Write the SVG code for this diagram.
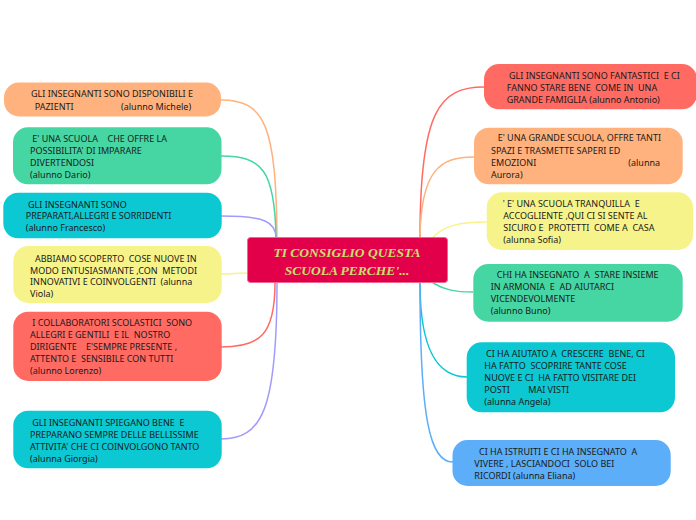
<svg xmlns="http://www.w3.org/2000/svg" width="696" height="520" viewBox="0 0 696 520">
<style>
.t{font-family:"Noto Sans","Open Sans",sans-serif;font-size:9px;fill:#1a1a1a;white-space:pre}
.c{font-family:"Liberation Serif","Times New Roman",serif;font-size:13.5px;font-weight:bold;font-style:italic;fill:#c6e06c;text-anchor:middle}
.ln{fill:none;stroke-width:1.5}
</style>
<rect width="696" height="520" fill="#ffffff"/>
<g id="connectors">
<path class="ln" stroke="#ffb27d" d="M277 238 C276 125 265 100 221 100"/>
<path class="ln" stroke="#45d6a4" d="M276 238 C275 170 262 156 221 156"/>
<path class="ln" stroke="#a29bfe" d="M276 238 C276 222 265 216 221 216"/>
<path class="ln" stroke="#f7f38b" d="M248 273 C240 273 230 274 221 274"/>
<path class="ln" stroke="#ff6b63" d="M275 283 C275 335 260 347 221 347"/>
<path class="ln" stroke="#a29bfe" d="M277 283 C277 410 262 439 221 439"/>
<path class="ln" stroke="#ff6b63" d="M420 237 C420 110 440 87 484 87"/>
<path class="ln" stroke="#ffb27d" d="M420 237 C421 170 440 157 474 157"/>
<path class="ln" stroke="#f7f38b" d="M432 238 C445 225 460 222 487 222"/>
<path class="ln" stroke="#45d6a4" d="M433 283 C445 290 455 292 473 292"/>
<path class="ln" stroke="#0bc8d3" d="M420 283 C420 355 440 377 467 377"/>
<path class="ln" stroke="#5baef7" d="M420 283 C420 420 430 462 453 462"/>
</g>
<g id="center">
<rect x="247.5" y="237.5" width="200" height="45" rx="3" fill="#e2004b" stroke="#f0668f" stroke-width="1"/>
<text class="c" x="347" y="257">TI CONSIGLIO QUESTA</text>
<text class="c" x="347" y="274.5">SCUOLA PERCHE'...</text>
</g>
<g id="l1">
<rect x="4" y="82.5" width="217" height="34" rx="15" fill="#ffb27d"/>
<text class="t" x="31" y="97.3">GLI INSEGNANTI SONO DISPONIBILI E</text>
<text class="t" x="34.7" y="109.5">PAZIENTI</text>
<text class="t" x="121" y="109.5">(alunno Michele)</text>
</g>
<g id="l2">
<rect x="13" y="127.3" width="208.5" height="57" rx="15" fill="#45d6a4"/>
<text class="t" x="32.3" y="141.5">E' UNA SCUOLA</text>
<text class="t" x="107.5" y="141.5">CHE OFFRE LA</text>
<text class="t" x="30" y="153.8">POSSIBILITA' DI IMPARARE</text>
<text class="t" x="30" y="166">DIVERTENDOSI</text>
<text class="t" x="30" y="178.3">(alunno Dario)</text>
</g>
<g id="l3">
<rect x="3.3" y="192.7" width="218.4" height="45.6" rx="15" fill="#0bc8d3"/>
<text class="t" x="28" y="207.7">GLI INSEGNANTI SONO</text>
<text class="t" x="25.7" y="219.4">PREPARATI,ALLEGRI E SORRIDENTI</text>
<text class="t" x="25.7" y="231.2">(alunno Francesco)</text>
</g>
<g id="l4">
<rect x="13.3" y="246" width="208.4" height="57" rx="15" fill="#f7f38b"/>
<text class="t" x="35" y="261.6">ABBIAMO SCOPERTO  COSE NUOVE IN</text>
<text class="t" x="30" y="273.5">MODO ENTUSIASMANTE ,CON  METODI</text>
<text class="t" x="30" y="285.3">INNOVATIVI E COINVOLGENTI  (alunna</text>
<text class="t" x="30" y="297">Viola)</text>
</g>
<g id="l5">
<rect x="13.3" y="311.7" width="208.4" height="69.3" rx="15" fill="#ff6b63"/>
<text class="t" x="32.3" y="325.6">I COLLABORATORI SCOLASTICI  SONO</text>
<text class="t" x="30" y="337.8">ALLEGRI E GENTILI  E IL  NOSTRO</text>
<text class="t" x="30" y="350">DIRIGENTE</text>
<text class="t" x="86" y="350">E'SEMPRE PRESENTE ,</text>
<text class="t" x="30" y="362">ATTENTO E  SENSIBILE CON TUTTI</text>
<text class="t" x="30" y="374">(alunno Lorenzo)</text>
</g>
<g id="l6">
<rect x="13.3" y="410.7" width="208.4" height="57.6" rx="15" fill="#0bc8d3"/>
<text class="t" x="32.3" y="425.6">GLI INSEGNANTI SPIEGANO BENE  E</text>
<text class="t" x="30" y="437.6">PREPARANO SEMPRE DELLE BELLISSIME</text>
<text class="t" x="30" y="449.5">ATTIVITA' CHE CI COINVOLGONO TANTO</text>
<text class="t" x="30" y="461.5">(alunna Giorgia)</text>
</g>
<g id="r1">
<rect x="484" y="64" width="213" height="45.3" rx="15" fill="#ff6b63"/>
<text class="t" x="509" y="79.3">GLI INSEGNANTI SONO FANTASTICI  E CI</text>
<text class="t" x="506.7" y="91.4">FANNO STARE BENE  COME IN  UNA</text>
<text class="t" x="506.7" y="103.4">GRANDE FAMIGLIA (alunno Antonio)</text>
</g>
<g id="r2">
<rect x="474" y="127.7" width="208.7" height="56.6" rx="15" fill="#ffb27d"/>
<text class="t" x="497.7" y="141">E' UNA GRANDE SCUOLA, OFFRE TANTI</text>
<text class="t" x="491" y="153.5">SPAZI E TRASMETTE SAPERI ED</text>
<text class="t" x="491" y="166">EMOZIONI</text>
<text class="t" x="628.3" y="166">(alunna</text>
<text class="t" x="491" y="178.3">Aurora)</text>
</g>
<g id="r3">
<rect x="486.7" y="192.3" width="206.3" height="57.7" rx="15" fill="#f7f38b"/>
<text class="t" x="502.7" y="206.6">' E' UNA SCUOLA TRANQUILLA  E</text>
<text class="t" x="503.3" y="219">ACCOGLIENTE ,QUI CI SI SENTE AL</text>
<text class="t" x="503.3" y="231">SICURO E  PROTETTI  COME A  CASA</text>
<text class="t" x="503.3" y="243">(alunna Sofia)</text>
</g>
<g id="r4">
<rect x="473.3" y="264" width="209.4" height="57.7" rx="15" fill="#45d6a4"/>
<text class="t" x="496.7" y="278.3">CHI HA INSEGNATO  A  STARE INSIEME</text>
<text class="t" x="490.7" y="290">IN ARMONIA  E  AD AIUTARCI</text>
<text class="t" x="490.7" y="301.8">VICENDEVOLMENTE</text>
<text class="t" x="490.7" y="314">(alunno Buno)</text>
</g>
<g id="r5">
<rect x="466.7" y="342.3" width="208.3" height="70" rx="15" fill="#0bc8d3"/>
<text class="t" x="486" y="357.3">CI HA AIUTATO A  CRESCERE  BENE, CI</text>
<text class="t" x="484.3" y="369.3">HA FATTO  SCOPRIRE TANTE COSE</text>
<text class="t" x="484.3" y="381">NUOVE E CI  HA FATTO VISITARE DEI</text>
<text class="t" x="484.3" y="392.6">POSTI</text>
<text class="t" x="528.3" y="392.6">MAI VISTI</text>
<text class="t" x="484.3" y="404.8">(alunna Angela)</text>
</g>
<g id="r6">
<rect x="452.5" y="440" width="218.2" height="46" rx="15" fill="#5baef7"/>
<text class="t" x="479" y="455">CI HA ISTRUITI E CI HA INSEGNATO  A</text>
<text class="t" x="474.3" y="466.8">VIVERE , LASCIANDOCI  SOLO BEI</text>
<text class="t" x="474.3" y="478.8">RICORDI (alunna Eliana)</text>
</g>
</svg>
